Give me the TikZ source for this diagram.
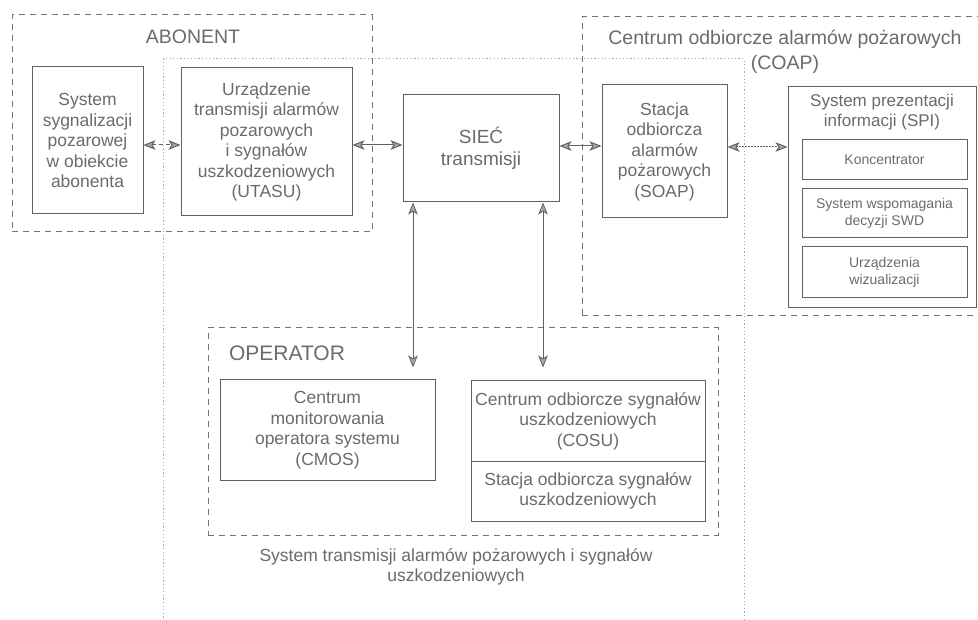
\documentclass[tikz,border=0pt]{standalone}
\usepackage{fontspec}
\setmainfont{Liberation Sans}
\usetikzlibrary{arrows.meta}
\definecolor{txt}{gray}{0.42}
\definecolor{ln}{gray}{0.38}
\definecolor{grp}{gray}{0.45}
\definecolor{dotc}{gray}{0.66}
\definecolor{tipc}{gray}{0.66}
\tikzset{
  box/.style={draw=ln, line width=1pt, rectangle, inner sep=0pt, align=center,
    text=txt, font=\fontsize{17.5}{20.5}\selectfont},
  smallbox/.style={box, font=\fontsize{14}{16.5}\selectfont},
  grpbox/.style={draw=grp, line width=1pt, dash pattern=on 6pt off 5pt, rectangle, inner sep=0pt},
  dotbox/.style={draw=dotc, line width=1pt, dash pattern=on 1.2pt off 2.4pt, rectangle, inner sep=0pt},
  lbl/.style={inner sep=0pt, align=center, text=txt, font=\fontsize{17.5}{20.5}\selectfont},
  head/.style={inner sep=0pt, align=center, text=txt, font=\fontsize{19.5}{25}\selectfont},
  arr/.style={draw=ln, line width=1pt, >={Stealth[length=12pt,width=9.5pt,inset=3pt,fill=tipc]}, <->},
  arrdot/.style={arr, dash pattern=on 1.5pt off 1.5pt},
  arrdash/.style={arr, dash pattern=on 4pt off 3pt}
}
\begin{document}
\begin{tikzpicture}[x=1pt,y=-1pt]
\useasboundingbox (0,0) rectangle (978,620);
\fill[white] (0,0) rectangle (978,620);

% big dotted system box (behind)
\node[dotbox, minimum width=581pt, minimum height=581pt] (sys) at (453.5,349.5) {};

% group boxes
\node[grpbox, minimum width=360pt, minimum height=217pt] (abon) at (192,123.5) {};
\node[grpbox, minimum width=403pt, minimum height=299pt] (coap) at (783.5,166.5) {};
\node[grpbox, minimum width=510pt, minimum height=207pt] (oper) at (463,431.5) {};

% group labels
\node[head] (abonl) at (193,37) {ABONENT};
\node[head] (coapl) at (785,52) {Centrum odbiorcze alarmów pożarowych\\(COAP)};
\node[head, font=\fontsize{21}{25}\selectfont] (operl) at (287,353) {OPERATOR};
\node[lbl, font=\fontsize{17.5}{20}\selectfont] (sysl) at (456,567) {System transmisji alarmów pożarowych i sygnałów\\uszkodzeniowych};

% boxes
\node[box, minimum width=111pt, minimum height=147pt] (ssp) at (87.5,140.5)
  {System\\sygnalizacji\\pozarowej\\w obiekcie\\abonenta};
\node[box, minimum width=171pt, minimum height=148pt] (utasu) at (266.5,142)
  {Urządzenie\\transmisji alarmów\\pozarowych\\i sygnałów\\uszkodzeniowych\\(UTASU)};
\node[box, minimum width=156pt, minimum height=107pt, font=\fontsize{19}{22}\selectfont] (sie) at (481,148.5)
  {SIEĆ\\transmisji};
\node[box, minimum width=125pt, minimum height=133pt] (soap) at (664.5,151.5)
  {Stacja\\odbiorcza\\alarmów\\pożarowych\\(SOAP)};
\node[box, minimum width=188pt, minimum height=221pt] (spi) at (882,197.5) {};
\node[lbl, font=\fontsize{17}{20}\selectfont] (spil) at (882,112) {System prezentacji\\informacji (SPI)};
\node[smallbox, minimum width=165pt, minimum height=40pt] (konc) at (884.5,160) {Koncentrator};
\node[smallbox, minimum width=165pt, minimum height=49pt] (swd) at (884.5,213.5) {System wspomagania\\decyzji SWD};
\node[smallbox, minimum width=165pt, minimum height=51pt] (wiz) at (884.5,272.5) {Urządzenia\\wizualizacji};

\node[box, minimum width=215pt, minimum height=100pt] (cmos) at (327.5,430)
  {Centrum\\monitorowania\\operatora systemu\\(CMOS)};
\node[box, minimum width=234pt, minimum height=80pt] (cosu) at (588,421)
  {Centrum odbiorcze sygnałów\\uszkodzeniowych\\(COSU)};
\node[box, minimum width=234pt, minimum height=60pt] (sosu) at (588,491)
  {Stacja odbiorcza sygnałów\\uszkodzeniowych};

% connector helper coordinates
\coordinate (hA) at (0,145);
\coordinate (hB) at (0,146);
\coordinate (hC) at (0,147);
\coordinate (vA) at (413,0);
\coordinate (vB) at (543,0);
\coordinate (cmosT) at ([yshift=12pt]cmos.north);
\coordinate (cosuT) at ([yshift=13pt]cosu.north);

% connectors
\draw[arrdash] (ssp.east |- hA) -- (utasu.west |- hA);
\draw[arr] (utasu.east |- hA) -- (sie.west |- hA);
\draw[arr] (sie.east |- hB) -- (soap.west |- hB);
\draw[arrdot] (soap.east |- hC) -- (spi.west |- hC);
\draw[arr, line width=0.8pt] (sie.south -| vA) -- (cmosT -| vA);
\draw[arr, line width=0.8pt] (sie.south -| vB) -- (cosuT -| vB);
\end{tikzpicture}
\end{document}
